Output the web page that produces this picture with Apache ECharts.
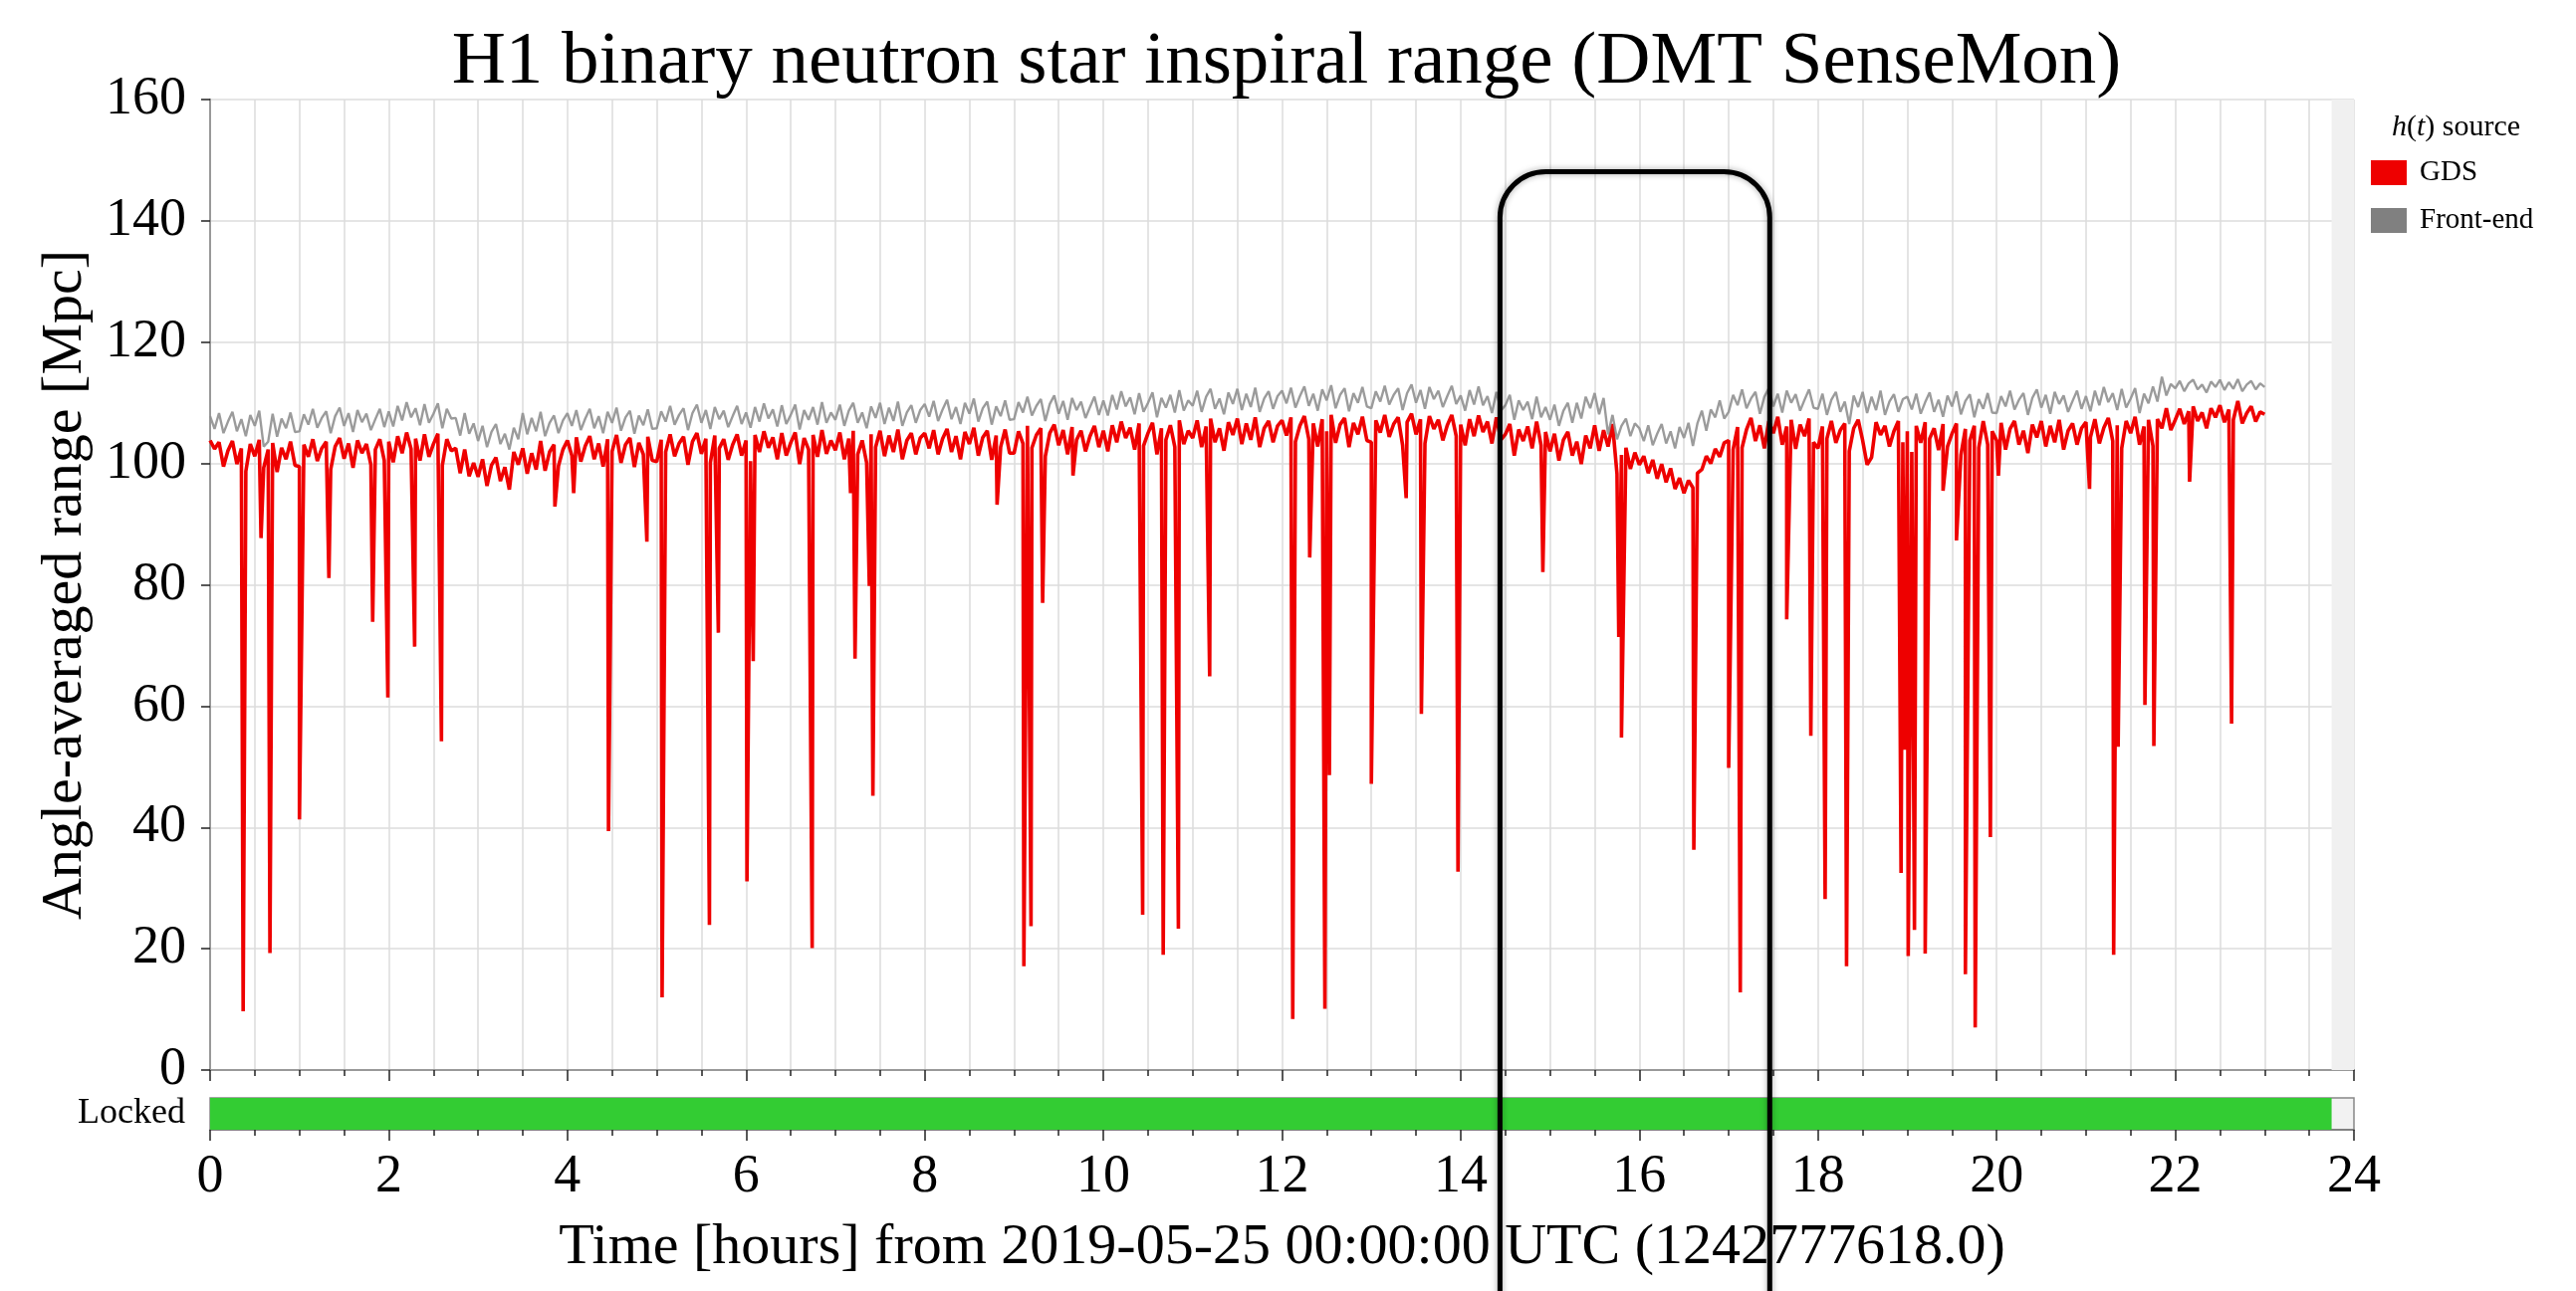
<!DOCTYPE html>
<html>
<head>
<meta charset="utf-8">
<title>H1 binary neutron star inspiral range</title>
<script src="https://cdn.jsdelivr.net/npm/echarts@6.0.0/dist/echarts.min.js"></script>
<style>
html, body { margin: 0; padding: 0; background: #fff; }
#chart { width: 2587px; height: 1297px; }
</style>
</head>
<body>
<div id="chart"></div>
<script>
// sample spacing of the range series, in hours (one row = one hour)
var STEP = 0.05;

// Front-end range [Mpc]
var frontEnd = [
  107.8,105.7,108.3,105.0,106.9,108.5,105.3,107.3,104.5,108.0,106.2,108.7,102.8,103.6,108.2,104.4,107.4,105.8,108.4,105.2,
  105.3,108.1,106.4,109.0,105.9,107.5,108.6,105.0,107.8,109.2,106.2,108.3,105.2,108.8,106.8,108.2,105.5,107.3,109.0,106.0,
  108.6,106.1,109.5,107.1,110.1,107.6,109.1,106.3,109.8,106.7,108.2,109.9,105.8,109.0,107.4,107.5,104.6,108.3,104.9,106.6,
  103.7,106.2,102.7,105.2,106.5,103.2,104.9,102.3,105.9,104.0,108.3,104.8,107.5,105.3,108.5,104.5,106.7,107.9,105.0,107.1,
  108.3,106.2,108.8,105.5,107.4,109.0,105.8,107.8,105.0,108.5,106.7,109.2,105.4,107.6,108.7,104.9,107.9,106.3,108.9,105.7,
  105.8,108.6,106.9,109.5,106.4,108.0,109.1,105.5,108.3,109.7,106.7,108.8,105.7,109.3,107.3,108.7,106.0,107.8,109.5,106.5,
  108.4,105.9,109.3,106.9,109.9,107.4,108.9,106.1,109.6,106.5,108.0,109.7,105.6,108.8,107.2,109.3,106.4,110.1,106.7,108.4,
  107.2,109.7,106.2,108.7,110.0,106.7,108.4,105.8,109.4,107.5,110.0,106.5,109.2,107.0,110.2,106.2,108.4,109.6,106.7,108.8,
  109.8,107.7,110.3,107.0,108.9,110.5,107.3,109.3,106.5,110.0,108.2,110.7,106.9,109.1,110.2,106.4,109.4,107.8,110.4,107.2,
  107.3,110.1,108.4,111.0,107.9,109.5,110.6,107.0,109.8,111.2,108.2,110.3,107.2,110.8,108.8,110.2,107.5,109.3,111.0,108.0,
  110.4,107.9,111.3,108.9,111.9,109.4,110.9,108.1,111.6,108.5,110.0,111.7,107.6,110.8,109.2,111.3,108.4,112.1,108.7,110.4,
  109.5,112.0,108.5,111.0,112.3,109.0,110.7,108.1,111.7,109.8,112.3,108.8,111.5,109.3,112.5,108.5,110.7,111.9,109.0,111.1,
  112.0,109.9,112.5,109.2,111.1,112.7,109.5,111.5,108.7,112.2,110.4,112.9,109.1,111.3,112.4,108.6,111.6,110.0,112.6,109.4,
  109.1,111.9,110.2,112.8,109.7,111.3,112.4,108.8,111.6,113.0,110.0,112.1,109.0,112.6,110.6,112.0,109.3,111.1,112.8,109.8,
  111.2,108.7,112.1,109.7,112.7,109.6,111.1,108.3,111.8,108.7,109.6,111.3,107.2,110.4,108.8,110.2,107.3,111.0,107.6,109.3,
  107.2,109.7,106.2,108.7,110.0,106.7,110.0,107.4,111.0,109.1,111.6,108.1,110.8,104.8,108.0,104.0,106.2,107.4,104.5,106.6,
  105.8,103.7,106.3,103.0,104.9,106.5,103.3,105.3,102.5,106.0,104.2,106.7,102.9,106.6,108.7,105.4,108.9,107.6,110.4,107.4,
  108.5,111.3,109.6,112.2,109.1,110.7,111.8,108.2,111.0,112.4,109.4,111.5,108.4,112.0,110.0,111.4,108.7,110.5,112.2,109.2,
  109.0,111.5,108.0,110.5,111.8,108.5,110.2,106.5,111.2,109.3,111.8,108.3,111.0,108.8,112.0,108.0,110.2,111.4,108.5,110.6,
  111.0,108.9,111.5,108.2,110.1,111.7,108.5,110.5,107.7,111.2,109.4,111.9,108.1,110.3,111.4,107.6,110.6,109.0,111.6,108.4,
  108.3,111.1,109.4,112.0,108.9,110.5,111.6,108.0,110.8,112.2,109.2,111.3,108.2,111.8,109.8,111.2,108.5,110.3,112.0,109.0,
  111.1,108.6,112.0,109.6,112.6,110.1,111.6,108.8,112.3,109.2,110.7,112.4,108.3,111.5,109.9,112.7,110.2,114.3,111.2,113.1,
  112.4,113.6,111.9,113.2,113.8,112.2,113.0,111.7,113.5,112.6,113.8,112.1,113.4,112.3,113.9,111.9,113.0,113.6,112.2,113.2,
  112.6
];

// GDS range [Mpc], same sampling
var gds = [
  103.8,102.4,103.5,99.5,102.1,103.7,99.9,102.5,98.7,103.2,101.2,103.9,99.3,102.3,103.4,98.6,102.6,100.7,103.6,99.7,
  99.5,103.1,101.1,104.0,100.4,102.5,103.6,99.0,102.8,104.2,100.8,103.3,99.3,103.8,101.7,103.2,99.8,102.3,104.0,100.5,
  103.6,100.2,104.5,101.7,105.1,102.4,104.1,100.5,104.8,101.1,103.2,104.9,99.7,104.0,102.1,102.5,98.4,102.3,97.9,100.1,
  97.8,100.7,96.3,99.7,101.0,97.1,99.4,95.7,101.9,99.8,102.5,98.3,101.7,99.0,103.7,98.8,101.9,103.1,99.6,102.3,
  103.8,101.3,104.3,100.3,102.9,104.5,100.7,103.3,99.5,104.0,102.0,104.7,100.1,103.1,104.2,99.4,103.4,101.5,104.4,100.5,
  100.3,103.9,101.9,104.8,101.2,103.3,104.4,99.8,103.6,105.0,101.6,104.1,100.1,104.6,102.5,104.0,100.6,103.1,104.8,101.3,
  103.8,100.4,104.7,101.9,105.3,102.6,104.3,100.7,105.0,101.3,103.4,105.1,99.9,104.2,102.3,104.7,101.1,105.5,101.6,103.8,
  102.2,105.1,100.7,104.1,105.4,101.5,103.8,100.1,104.8,102.7,105.4,101.2,104.6,101.9,105.6,100.7,103.8,105.0,101.5,104.2,
  105.0,102.5,105.5,101.5,104.1,105.7,101.9,104.5,100.7,105.2,103.2,105.9,101.3,104.3,105.4,100.6,104.6,102.7,105.6,101.7,
  101.7,105.3,103.3,106.2,102.6,104.7,105.8,101.2,105.0,106.4,103.0,105.5,101.5,106.0,103.9,105.4,102.0,104.5,106.2,102.7,
  105.4,102.0,106.3,103.5,106.9,104.2,105.9,102.3,106.6,102.9,105.0,106.7,101.5,105.8,103.9,106.3,102.7,107.1,103.2,105.4,
  104.2,107.1,102.7,106.1,107.4,103.5,105.8,102.1,106.8,104.7,107.4,103.2,106.6,103.9,107.6,102.7,105.8,107.0,103.5,106.2,
  107.1,104.6,107.6,103.6,106.2,107.8,104.0,106.6,102.8,107.3,105.3,108.0,103.4,106.4,107.5,102.7,106.7,104.8,107.7,103.8,
  103.5,107.1,105.1,108.0,104.4,106.5,107.6,103.0,106.8,108.2,104.8,107.3,103.3,107.8,105.7,107.2,103.8,106.3,108.0,104.5,
  106.4,103.0,107.3,104.5,107.9,105.2,106.9,103.3,107.6,103.9,104.8,106.5,101.3,105.6,103.7,106.1,102.5,106.9,103.0,105.2,
  102.0,104.9,100.5,103.9,105.2,101.3,103.6,99.9,104.6,102.5,106.3,102.1,105.5,102.8,106.5,98.3,101.4,102.6,99.1,101.8,
  99.8,101.2,98.4,100.6,97.5,99.9,96.9,99.2,95.8,97.6,95.1,97.2,96.0,98.4,99.0,101.2,100.0,102.4,101.1,103.4,
  103.8,102.3,106.0,102.6,105.6,107.5,103.7,106.3,102.5,107.0,105.0,107.7,103.1,106.1,107.2,102.4,106.4,104.5,107.4,103.5,
  102.5,106.1,104.1,107.0,103.4,105.5,106.6,102.0,105.8,107.2,103.8,99.8,101.0,106.8,104.7,106.2,102.8,105.3,107.0,103.5,
  105.3,101.9,106.2,103.4,106.8,104.1,105.8,102.2,106.5,102.8,104.9,106.6,101.4,105.7,103.8,106.2,102.6,107.0,103.1,105.3,
  103.8,106.7,102.3,105.7,107.0,103.1,105.4,101.7,106.4,104.3,107.0,102.8,106.2,103.5,107.2,102.3,105.4,106.6,103.1,105.8,
  106.8,104.3,107.3,103.3,105.9,107.5,103.7,106.3,102.5,107.0,105.0,107.7,103.1,106.1,107.2,102.9,107.3,105.8,109.1,105.5,
  107.2,109.0,106.5,108.6,109.4,107.0,108.4,105.8,109.1,107.6,109.6,106.8,108.9,107.2,110.3,106.6,108.3,109.4,106.9,108.5,
  108.1
];

// GDS drop-outs: [hour, range Mpc]
var gdsDips = [
  [0.37, 9.7], [0.57, 87.7], [0.67, 19.3], [1.00, 41.3], [1.33, 81.1], [1.82, 73.9],
  [1.99, 61.4], [2.29, 69.8], [2.59, 54.2], [3.86, 92.9], [4.07, 95.1], [4.46, 39.4],
  [4.89, 87.1], [5.06, 12.0], [5.59, 23.9], [5.69, 72.1], [6.01, 31.1], [6.08, 67.4],
  [6.74, 20.1], [7.17, 95.1], [7.22, 67.8], [7.38, 79.8], [7.42, 45.2], [8.81, 93.2],
  [9.11, 17.1], [9.19, 23.7], [9.32, 77.0], [9.66, 98.0], [10.44, 25.6], [10.67, 19.0],
  [10.84, 23.3], [11.19, 64.9], [12.12, 8.4], [12.31, 84.5], [12.48, 10.1], [12.53, 48.6],
  [13.00, 47.2], [13.39, 94.3], [13.56, 58.7], [13.97, 32.7], [14.92, 82.1], [15.77, 71.4],
  [15.80, 54.8], [16.61, 36.3], [17.00, 49.8], [17.13, 12.8], [17.65, 74.3], [17.92, 55.1],
  [18.08, 28.2], [18.32, 17.1], [18.93, 32.5], [18.97, 52.8], [19.01, 18.8], [19.08, 23.1],
  [19.20, 19.2], [19.40, 95.5], [19.55, 87.3], [19.65, 15.8], [19.76, 7.0], [19.93, 38.4],
  [20.02, 98.0], [21.04, 95.8], [21.31, 19.0], [21.36, 53.3], [21.66, 60.2], [21.76, 53.4],
  [22.16, 97.0], [22.63, 57.1]
];

// lock state segments [start hour, end hour]
var lockedSegments = [[0, 23.75]];
var dayEnd = 24;

// highlighted window drawn over the plot: [start hour, end hour, top Mpc]
var highlightBox = [14.44, 17.46, 148.1];

var FONT = "'Liberation Serif', 'DejaVu Serif', serif";

function toPoints(values) {
  var pts = [];
  for (var i = 0; i < values.length; i++) {
    pts.push([+(i * STEP).toFixed(2), values[i]]);
  }
  return pts;
}

var frontEndPoints = toPoints(frontEnd);
var gdsPoints = toPoints(gds).concat(gdsDips).sort(function (a, b) { return a[0] - b[0]; });

var gridLine = { show: true, lineStyle: { color: '#dcdcdc', width: 1.5 } };

var myChart = echarts.init(document.getElementById('chart'));

myChart.setOption({
  animation: false,
  backgroundColor: '#fff',
  title: [
    {
      text: 'H1 binary neutron star inspiral range (DMT SenseMon)',
      left: 1287,
      top: 18,
      textAlign: 'center',
      textStyle: { fontFamily: FONT, fontSize: 75, fontWeight: 'normal', color: '#000', lineHeight: 80 }
    },
    {
      text: '{i|h}({i|t}) source',
      left: 2397,
      top: 108,
      textStyle: {
        fontFamily: FONT, fontSize: 30, fontWeight: 'normal', color: '#000',
        rich: { i: { fontFamily: FONT, fontSize: 30, fontStyle: 'italic', color: '#000' } }
      }
    }
  ],
  legend: {
    orient: 'vertical',
    left: 2376,
    top: 154,
    icon: 'rect',
    itemWidth: 36,
    itemHeight: 25,
    itemGap: 19,
    textStyle: { fontFamily: FONT, fontSize: 29, color: '#000', padding: [0, 0, 0, 8] },
    data: [
      { name: 'GDS', itemStyle: { color: '#ee0000' } },
      { name: 'Front-end', itemStyle: { color: '#808080' } }
    ]
  },
  grid: [
    { left: 211, right: 223, top: 100, height: 975 },
    { left: 211, right: 223, top: 1103, height: 32, show: true, borderColor: '#888', borderWidth: 1.5, backgroundColor: '#f2f2f2' }
  ],
  xAxis: [
    {
      type: 'value', gridIndex: 0, min: 0, max: dayEnd, interval: 2, offset: 6,
      axisLine: { show: true, lineStyle: { color: '#555', width: 2 } },
      axisTick: { show: true, length: 11, lineStyle: { color: '#222', width: 1.5 } },
      minorTick: { show: true, splitNumber: 4, length: 6, lineStyle: { color: '#222', width: 1.5 } },
      axisLabel: { show: false },
      splitLine: gridLine,
      minorSplitLine: gridLine
    },
    {
      type: 'value', gridIndex: 0, min: 0, max: dayEnd, position: 'top',
      axisLine: { show: true, lineStyle: { color: '#999', width: 2 } },
      axisTick: { show: false }, axisLabel: { show: false }, splitLine: { show: false }
    },
    {
      type: 'value', gridIndex: 1, min: 0, max: dayEnd, interval: 2,
      axisLine: { show: true, lineStyle: { color: '#777', width: 1.5 } },
      axisTick: { show: true, length: 11, lineStyle: { color: '#222', width: 1.5 } },
      minorTick: { show: true, splitNumber: 4, length: 6, lineStyle: { color: '#222', width: 1.5 } },
      axisLabel: { fontFamily: FONT, fontSize: 54, color: '#000', margin: 21 },
      splitLine: { show: false },
      name: 'Time [hours] from 2019-05-25 00:00:00 UTC (1242777618.0)',
      nameLocation: 'middle',
      nameGap: 90,
      nameTextStyle: { fontFamily: FONT, fontSize: 58, color: '#000' }
    }
  ],
  yAxis: [
    {
      type: 'value', gridIndex: 0, min: 0, max: 160, interval: 20,
      axisLine: { show: true, lineStyle: { color: '#555', width: 2 } },
      axisTick: { show: true, length: 9, lineStyle: { color: '#222', width: 1.5 } },
      axisLabel: { fontFamily: FONT, fontSize: 54, color: '#000', margin: 24 },
      splitLine: gridLine,
      name: 'Angle-averaged range [Mpc]',
      nameLocation: 'middle',
      nameGap: 106,
      nameTextStyle: { fontFamily: FONT, fontSize: 58, color: '#000' }
    },
    {
      type: 'value', gridIndex: 0, min: 0, max: 160, position: 'right',
      axisLine: { show: true, lineStyle: { color: '#999', width: 2 } },
      axisTick: { show: false }, axisLabel: { show: false }, splitLine: { show: false }
    },
    {
      type: 'category', gridIndex: 1, data: ['Locked'],
      axisLine: { show: false }, axisTick: { show: false },
      axisLabel: { fontFamily: FONT, fontSize: 36, color: '#000', margin: 25 }
    }
  ],
  series: [
    {
      name: 'GDS',
      type: 'line',
      xAxisIndex: 0, yAxisIndex: 0,
      data: gdsPoints,
      showSymbol: false,
      lineStyle: { color: '#ee0000', width: 3.6 },
      itemStyle: { color: '#ee0000' },
      markArea: {
        silent: true,
        itemStyle: { color: '#f0f0f0' },
        data: [[{ xAxis: lockedSegments[0][1] }, { xAxis: dayEnd }]]
      }
    },
    {
      name: 'Front-end',
      type: 'line',
      xAxisIndex: 0, yAxisIndex: 0,
      data: frontEndPoints,
      showSymbol: false,
      lineStyle: { color: '#909090', width: 2.4, opacity: 0.9 },
      itemStyle: { color: '#808080' }
    },
    {
      name: 'Locked',
      type: 'custom',
      xAxisIndex: 2, yAxisIndex: 2,
      data: lockedSegments,
      encode: { x: [0, 1] },
      renderItem: function (params, api) {
        var start = api.coord([api.value(0), 0]);
        var end = api.coord([api.value(1), 0]);
        var h = api.size([0, 1])[1];
        return {
          type: 'rect',
          shape: { x: start[0], y: start[1] - h / 2, width: end[0] - start[0], height: h },
          style: { fill: '#33cc33' }
        };
      }
    }
  ]
});

// rounded highlight frame, positioned through the chart's own scales
var tl = myChart.convertToPixel({ gridIndex: 0 }, [highlightBox[0], highlightBox[2]]);
var tr = myChart.convertToPixel({ gridIndex: 0 }, [highlightBox[1], highlightBox[2]]);
myChart.setOption({
  graphic: [{
    type: 'rect',
    z: 100,
    silent: true,
    shape: { x: tl[0], y: tl[1], width: tr[0] - tl[0], height: 1400, r: [46, 46, 0, 0] },
    style: { fill: 'rgba(0,0,0,0)', stroke: '#000', lineWidth: 5, shadowBlur: 6, shadowColor: 'rgba(0,0,0,0.35)' }
  }]
});
</script>
</body>
</html>
